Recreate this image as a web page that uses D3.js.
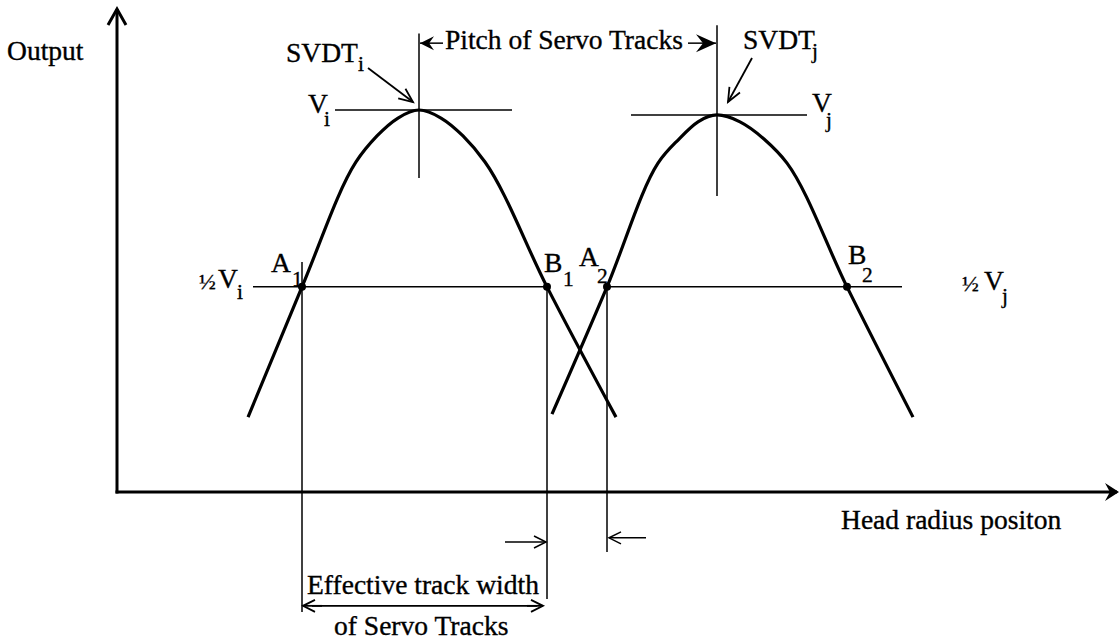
<!DOCTYPE html>
<html lang="en">
<head>
    <meta charset="UTF-8">
    <title>Servo track output vs head radius position</title>
    <script src="https://d3js.org/d3.v7.min.js"></script>
    <style>
        body { margin: 0; background: #fff; }
        text { font-family: "Liberation Serif", "Times New Roman", serif; fill: #000; stroke: #000; stroke-width: 0.35; }
    </style>
</head>
<body>
    <svg id="chart" width="1119" height="641"></svg>

    <script>
        // output curves of two neighbouring servo tracks: [head position, output]
        const curveI = [[13.1, 0.196], [18.5, 0.537], [23.9, 0.864], [26.0, 0.932], [28.1, 0.979],
                        [30.2, 1.0], [32.4, 0.979], [34.6, 0.932], [36.8, 0.864], [43.0, 0.537], [49.9, 0.196]];
        const curveJ = [[43.5, 0.204], [49.0, 0.537], [54.1, 0.861], [56.2, 0.924], [58.1, 0.969],
                        [60.0, 0.987], [62.3, 0.969], [64.7, 0.924], [67.0, 0.861], [73.0, 0.537], [79.6, 0.196]];

        // peaks (SVDT centres) and their reference lines
        const peakNames = ["i", "j"];
        const peakX = [30.2, 60.0];
        const peakV = [1.0, 0.987];
        const peakLineSpan = [[21.8, 39.5], [51.4, 69.0]];
        const peakTickSpan = [[0.822, 1.2], [0.775, 1.222]];

        // half-amplitude crossings
        const halfLevel = 0.537;
        const halfNames = ["A", "B", "A", "B"];
        const halfSubs = ["1", "1", "2", "2"];
        const halfX = [18.5, 43.0, 49.0, 73.0];
        const halfLineSpan = [[13.6, 43.0], [49.0, 78.5]];
        const dropTop = [0.602, 0.537, 0.537];
        const dropBottom = [-0.314, -0.280, -0.157];

        // dimension arrows
        const pitchLevel = 1.175;
        const widthLevel = -0.298;
        const gapLevels = [-0.131, -0.120];

        const axisLabels = ["Output", "Head radius positon"];
        const pitchLabel = "Pitch of Servo Tracks";
        const widthLabels = ["Effective track width", "of Servo Tracks"];

        const svg = d3.select("#chart");

        const x = d3.scaleLinear().domain([0, 100]).range([117, 1117]);
        const y = d3.scaleLinear().domain([0, 1]).range([492, 110]);

        const FS = 27, SUB = 21;

        function label(px, py, s, size) {
            return svg.append("text")
                .attr("transform", `translate(${px},${py}) scale(1.02,1)`)
                .attr("font-size", size)
                .text(s);
        }

        function seg(x1, y1, x2, y2, w) {
            svg.append("line")
                .attr("x1", x1).attr("y1", y1).attr("x2", x2).attr("y2", y2)
                .attr("stroke", "#000").attr("stroke-width", w);
        }

        function head(tx, ty, ang, len, half, filled, w) {
            const dx = Math.cos(ang), dy = Math.sin(ang);
            const bx = tx - len * dx, by = ty - len * dy;
            const w1 = [bx - half * dy, by + half * dx], w2 = [bx + half * dy, by - half * dx];
            if (filled) {
                const n = [tx - 0.65 * len * dx, ty - 0.65 * len * dy];
                svg.append("path")
                    .attr("d", `M${tx},${ty}L${w1}L${n}L${w2}Z`)
                    .attr("fill", "#000");
            } else {
                svg.append("path")
                    .attr("d", `M${w1}L${tx},${ty}L${w2}`)
                    .attr("fill", "none").attr("stroke", "#000").attr("stroke-width", w);
            }
        }

        function arrow(x1, y1, x2, y2, len, half, filled, w) {
            seg(x1, y1, x2, y2, w);
            head(x2, y2, Math.atan2(y2 - y1, x2 - x1), len, half, filled, w);
        }

        // axes
        arrow(x(0), y(0) + 1.5, x(0), 9, 16, 9, false, 3);
        seg(x(0) - 1.5, y(0), x(100), y(0), 3);
        head(1119, y(0), 0, 14, 9, true, 3);

        label(7, 60, axisLabels[0], FS);
        label(841, 529, axisLabels[1], FS);

        // reference lines at peaks
        peakNames.forEach((n, k) => {
            seg(x(peakLineSpan[k][0]), y(peakV[k]), x(peakLineSpan[k][1]), y(peakV[k]), 1.5);
            seg(x(peakX[k]), y(peakTickSpan[k][0]), x(peakX[k]), y(peakTickSpan[k][1]), 1.5);
        });

        // half-level lines
        halfLineSpan.forEach(s => seg(x(s[0]), y(halfLevel), x(s[1]), y(halfLevel), 1.5));

        // vertical drops from A1, B1, A2
        [0, 1, 2].forEach(k => seg(x(halfX[k]), y(dropTop[k]), x(halfX[k]), y(dropBottom[k]), 1.5));

        // the curves
        const line = d3.line()
            .x(d => x(d[0]))
            .y(d => y(d[1]))
            .curve(d3.curveMonotoneX);

        [curveI, curveJ].forEach(c => {
            svg.append("path")
                .datum(c)
                .attr("d", line)
                .attr("fill", "none")
                .attr("stroke", "#000")
                .attr("stroke-width", 3.2);
        });

        // crossing points
        svg.selectAll(".pt")
            .data(halfX)
            .enter()
            .append("circle")
            .attr("class", "pt")
            .attr("cx", d => x(d))
            .attr("cy", y(halfLevel))
            .attr("r", 4)
            .attr("fill", "#000");

        const halfOff = [[-31, -15, -10, -1], [-3, -15, 16, -1], [-28, -21, -10, -4], [1, -23, 15, -5]];
        halfX.forEach((d, k) => {
            const o = halfOff[k];
            label(x(d) + o[0], y(halfLevel) + o[1], halfNames[k], FS);
            label(x(d) + o[2], y(halfLevel) + o[3], halfSubs[k], SUB);
        });

        // ½V labels
        label(x(halfLineSpan[0][0]) - 54, y(halfLevel) + 2, "\u00BD", 22);
        label(x(halfLineSpan[0][0]) - 35, y(halfLevel) + 1, "V", FS);
        label(x(halfLineSpan[0][0]) - 16, y(halfLevel) + 12, "i", SUB);
        label(x(halfLineSpan[1][1]) + 60, y(halfLevel) + 4, "\u00BD", 22);
        label(x(halfLineSpan[1][1]) + 82, y(halfLevel) + 3, "V", FS);
        label(x(halfLineSpan[1][1]) + 100, y(halfLevel) + 16, "j", SUB);

        // V labels at peaks
        label(x(peakLineSpan[0][0]) - 27, y(peakV[0]) + 3, "V", FS);
        label(x(peakLineSpan[0][0]) - 11, y(peakV[0]) + 16, "i", SUB);
        label(x(peakLineSpan[1][1]) + 5, y(peakV[1]) - 3, "V", FS);
        label(x(peakLineSpan[1][1]) + 19, y(peakV[1]) + 12, "j", SUB);

        // SVDT labels and their pointers
        label(x(peakX[0]) - 133, 62, "SVDT", FS);
        label(x(peakX[0]) - 61, 71, "i", SUB);
        arrow(x(peakX[0]) - 51, 68, x(peakX[0]) - 6, y(peakV[0]) - 8, 14, 6, false, 1.8);

        label(x(peakX[1]) + 26, 49, "SVDT", FS);
        label(x(peakX[1]) + 95, 58, "j", SUB);
        arrow(x(peakX[1]) + 35, 58, x(peakX[1]) + 11, y(peakV[1]) - 13, 14, 6, false, 1.8);

        // pitch of servo tracks
        arrow(x(peakX[0]) + 24, y(pitchLevel), x(peakX[0]) + 1, y(pitchLevel), 14, 7, true, 1.5);
        arrow(x(peakX[1]) - 29, y(pitchLevel), x(peakX[1]) - 1, y(pitchLevel), 20, 9, true, 1.5);
        label(x(peakX[0]) + 26, y(pitchLevel) + 6, pitchLabel, FS);

        // effective track width
        const wy = y(widthLevel);
        arrow(x(halfX[0]) + 20, wy, x(halfX[0]) + 1, wy, 12, 6, false, 1.8);
        arrow(x(halfX[1]) - 20, wy, x(halfX[1]) - 4, wy, 12, 6, false, 1.8);
        seg(x(halfX[0]) + 10, wy, x(halfX[1]) - 10, wy, 1.8);
        label(x(halfX[0]) + 5, wy - 12, widthLabels[0], FS);
        label(x(halfX[0]) + 32, wy + 29, widthLabels[1], FS);

        arrow(x(halfX[1]) - 42, y(gapLevels[0]), x(halfX[1]) - 1, y(gapLevels[0]), 12, 6, false, 1.5);
        arrow(x(halfX[2]) + 39, y(gapLevels[1]), x(halfX[2]) + 2, y(gapLevels[1]), 12, 6, false, 1.5);
    </script>
</body>
</html>
